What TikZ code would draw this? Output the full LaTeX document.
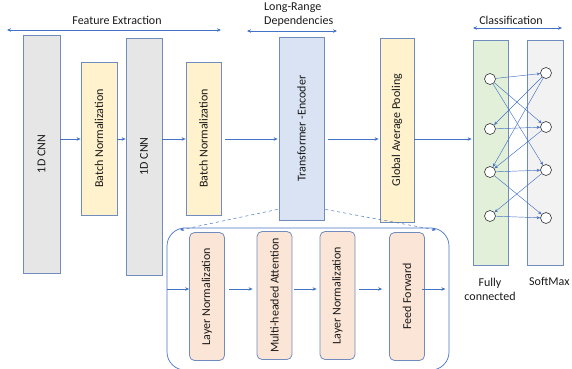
\documentclass[tikz,border=0pt]{standalone}
\usepackage{fontspec}
\setmainfont{Carlito}
\usetikzlibrary{arrows.meta,calc,positioning}
\definecolor{edgeblue}{RGB}{68,114,196}
\definecolor{boxline}{RGB}{112,140,190}
\definecolor{cnnfill}{RGB}{230,230,230}
\definecolor{bnfill}{RGB}{255,242,204}
\definecolor{encfill}{RGB}{218,227,243}
\definecolor{fcfill}{RGB}{226,240,217}
\definecolor{smfill}{RGB}{242,242,242}
\definecolor{subfill}{RGB}{251,229,214}

\begin{document}
\begin{tikzpicture}[x=1pt,y=-1pt,
	font=\fontsize{12}{14}\selectfont, text=black!90,
	layer/.style={draw=boxline, line width=0.8pt, inner sep=0pt},
	sublayer/.style={layer, fill=subfill, rounded corners=5pt, minimum width=35pt, minimum height=128pt},
	unit/.style={draw=black!80, fill=white, circle, line width=0.6pt, minimum size=11pt, inner sep=0pt},
	flow/.style={draw=edgeblue, line width=0.6pt, -{Stealth[length=4pt,width=3.5pt]}},
	span/.style={draw=edgeblue, line width=0.6pt, {Stealth[length=4pt,width=3.5pt]}-{Stealth[length=4pt,width=3.5pt]}},
	mesh/.style={draw=edgeblue, line width=0.45pt, -{Stealth[length=3.5pt,width=3pt]}}]
	\useasboundingbox (0,0) rectangle (572,368);

	\node[layer, fill=cnnfill, minimum width=37pt, minimum height=238pt] (cnn1) at (41.5,154) {\rotatebox{90}{1D CNN}};
	\node[layer, fill=bnfill, minimum width=36pt, minimum height=153pt] (bn1) at (99,138.5) {\rotatebox{90}{Batch Normalization}};
	\node[layer, fill=cnnfill, minimum width=36pt, minimum height=237pt] (cnn2) at (144,156.5) {\rotatebox{90}{1D CNN}};
	\node[layer, fill=bnfill, minimum width=35pt, minimum height=153pt] (bn2) at (203.5,138.5) {\rotatebox{90}{Batch Normalization}};
	\node[layer, fill=encfill, minimum width=45pt, minimum height=183pt] (enc) at (301.5,128.5) {\rotatebox{90}{Transformer -Encoder}};
	\node[layer, fill=bnfill, minimum width=34pt, minimum height=184pt] (gap) at (397,130) {\rotatebox{90}{Global Average Pooling}};
	\node[layer, fill=fcfill, minimum width=35pt, minimum height=225pt] (fc) at (490.5,152.5) {};
	\node[layer, fill=smfill, minimum width=36pt, minimum height=225pt] (sm) at (545,152.5) {};

	\node[draw=edgeblue, line width=0.7pt, rounded corners=18pt, minimum width=282pt, minimum height=142pt] (blk) at (308,299) {};
	\node[sublayer] (ln1) at (207,296.5) {\rotatebox{90}{Layer Normalization}};
	\node[sublayer] (mha) at (274.5,295.5) {\rotatebox{90}{Multi-headed Attention}};
	\node[sublayer] (ln2) at (337.5,295.5) {\rotatebox{90}{Layer Normalization}};
	\node[sublayer] (ff) at (407,296.5) {\rotatebox{90}{Feed Forward}};

	\node[unit] (f1) at (490,79) {};
	\node[unit] (f2) at (490,129) {};
	\node[unit] (f3) at (490,172) {};
	\node[unit] (f4) at (490,216) {};
	\node[unit] (s1) at (546,73) {};
	\node[unit] (s2) at (546,127) {};
	\node[unit] (s3) at (546,170) {};
	\node[unit] (s4) at (546,218) {};

	\node (fetxt) at (117,20) {Feature Extraction};
	\node[anchor=west, align=left, inner sep=0pt] (lrtxt) at (264,15) {Long-Range\\Dependencies};
	\node (cltxt) at (511,20) {Classification};
	\node[align=center, inner sep=0pt] (fctxt) at (490,289) {Fully\\connected};
	\node[anchor=west, inner sep=0pt] (smtxt) at (529,281) {SoftMax};

	\coordinate (fea) at (7,30);
	\coordinate (feb) at (221,30);
	\coordinate (lra) at (247,31);
	\coordinate (lrb) at (337,31);
	\coordinate (cla) at (473,28);
	\coordinate (clb) at (562,28);
	\draw[span] (fea) -- (feb);
	\draw[span] (lra) -- (lrb);
	\draw[span] (cla) -- (clb);

	\coordinate (mid) at (0,139);
	\draw[flow] (cnn1.east |- mid) -- (bn1.west |- mid);
	\draw[flow] (bn1.east |- mid) -- (cnn2.west |- mid);
	\draw[flow] (cnn2.east |- mid) -- (bn2.west |- mid);
	\draw[flow] ($(bn2.east |- mid)+(4,0)$) -- ($(enc.west |- mid)+(-1,0)$);
	\draw[flow] ($(enc.east |- mid)+(4,0)$) -- ($(gap.west |- mid)+(-1,0)$);
	\draw[flow] (gap.east |- mid) -- ($(fc.west |- mid)+(-1,0)$);

	\coordinate (encl) at ($(enc.south west)+(-1,-11)$);
	\coordinate (encr) at ($(enc.south east)+(1,-11)$);
	\coordinate (blkl) at (180,230);
	\coordinate (blkr) at (436,230);
	\draw[flow, dashed, line width=0.5pt] (encl) -- (blkl);
	\draw[flow, dashed, line width=0.5pt] (encr) -- (blkr);

	\coordinate (low) at (0,289);
	\draw[flow] (blk.west |- low) -- (ln1.west |- low);
	\draw[flow] ($(ln1.east |- low)+(4,0)$) -- ($(mha.west |- low)+(-4,0)$);
	\draw[flow] ($(mha.east |- low)+(2,0)$) -- ($(ln2.west |- low)+(-3,0)$);
	\draw[flow] ($(ln2.east |- low)+(4,0)$) -- ($(ff.west |- low)+(-7,0)$);
	\draw[flow] ($(ff.east |- low)+(-3,0)$) -- ($(blk.east |- low)+(-4,0)$);

	\draw[mesh] (f1) -- (s1);
	\draw[mesh] (f1) -- (s2);
	\draw[mesh] (f1) -- (s3);
	\draw[mesh] (s1) -- (f2);
	\draw[mesh] (s1) -- (f3);
	\draw[mesh] (f2) -- (s2);
	\draw[mesh] (s2) -- (f3);
	\draw[mesh] (f3) -- (s3);
	\draw[mesh] (f3) -- (s4);
	\draw[mesh] (s3) -- (f4);
	\draw[mesh] (f4) -- (s4);
\end{tikzpicture}
\end{document}
